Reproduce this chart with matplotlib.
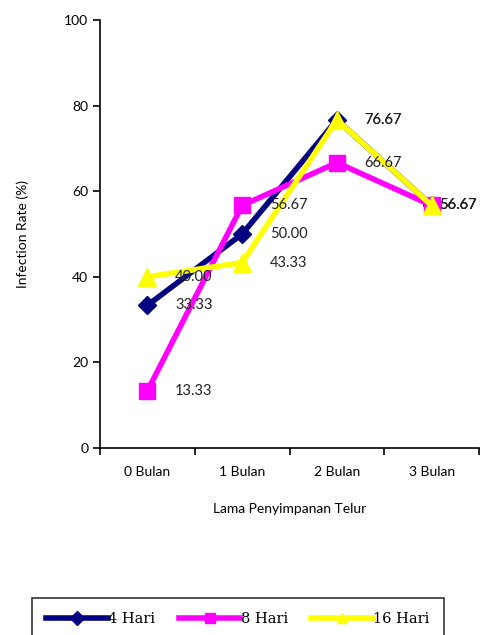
import matplotlib.pyplot as plt
import numpy as np

# data
categories = ['0 Bulan', '1 Bulan', '2 Bulan', '3 Bulan']
hari4 = [33.33, 50.00, 76.67, 56.67]
hari8 = [13.33, 56.67, 66.67, 56.67]
hari16 = [40.00, 43.33, 76.67, 56.67]
series_names = ['4 Hari', '8 Hari', '16 Hari']

plt.rcParams['font.family'] = ['Lato', 'DejaVu Sans']

fig = plt.figure(figsize=(4.83, 6.35), dpi=100)
ax = fig.add_axes([0.207, 0.2945, 0.785, 0.674])

x = np.arange(len(categories))
styles = [
    (hari4, '#000080', 'D', 9),
    (hari8, '#FF00FF', 's', 12),
    (hari16, '#FFFF00', '^', 13),
]
lines = []
for (vals, col, mk, ms), name in zip(styles, series_names):
    ln, = ax.plot(x, vals, color=col, lw=4, marker=mk, markersize=ms,
                  markerfacecolor=col, markeredgecolor=col, label=name,
                  clip_on=False)
    lines.append(ln)

# value labels to the right of each point (last column pulled in so it fits)
for vals in (hari4, hari8, hari16):
    for xi, v in zip(x, vals):
        dx = 20 if xi < len(categories) - 1 else 5
        ax.annotate(f'{v:.2f}', (xi, v), xytext=(dx, 0), textcoords='offset points',
                    ha='left', va='center', fontsize=10.5, color='#222222',
                    annotation_clip=False)

ax.set_ylim(0, 100)
ax.set_yticks([0, 20, 40, 60, 80, 100])
ax.set_xlim(-0.5, 3.5)
ax.set_xticks(x)
ax.set_xticklabels(categories)
ax.set_xticks(np.arange(-0.5, 4, 1), minor=True)
ax.tick_params(axis='x', which='major', length=0, pad=13, labelsize=10)
ax.tick_params(axis='x', which='minor', length=5, width=1.2, direction='out')
ax.tick_params(axis='y', length=5, width=1.2, labelsize=10)
ax.spines['top'].set_visible(False)
ax.spines['right'].set_visible(False)
ax.spines['left'].set_linewidth(1.2)
ax.spines['bottom'].set_linewidth(1.2)
ax.set_xlabel('Lama Penyimpanan Telur', fontsize=10, labelpad=18)
ax.set_ylabel('Infection Rate (%)', fontsize=10, labelpad=25)

leg = fig.legend(handles=lines, loc='center', bbox_to_anchor=(0.493, 0.025),
                 ncol=3, frameon=True, fancybox=False, edgecolor='black',
                 handlelength=4.2, columnspacing=1.6, handletextpad=0.05,
                 borderpad=1.0, prop={'family': 'DejaVu Serif', 'size': 10.5})
leg.get_frame().set_linewidth(1.2)
for h in leg.get_lines():
    h.set_markersize(7)

fig.savefig('out.png', dpi=100)
